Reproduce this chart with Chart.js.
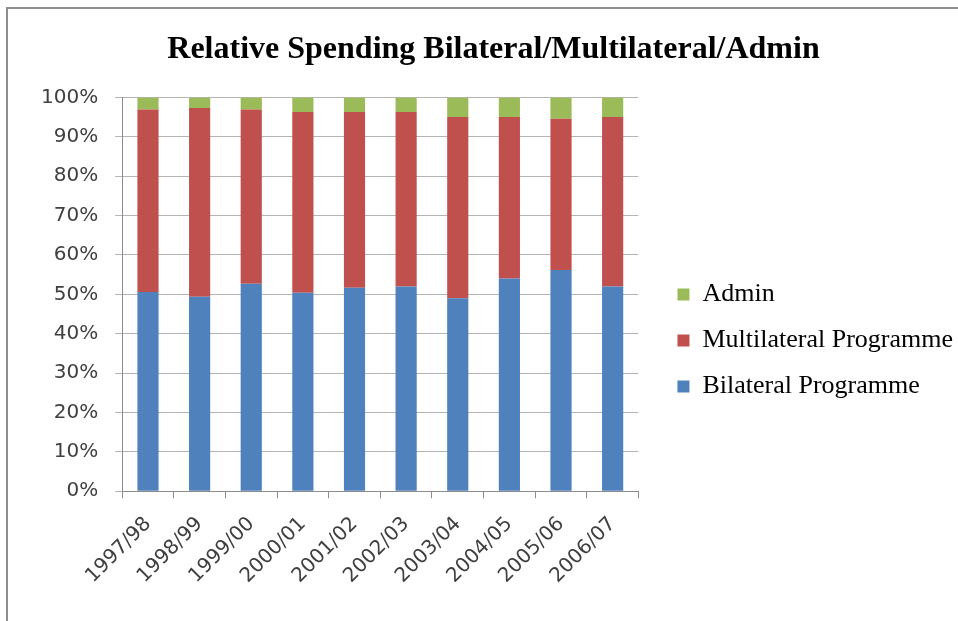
<!DOCTYPE html>
<html>
<head>
<meta charset="utf-8">
<script src="https://cdn.jsdelivr.net/npm/chart.js@4"></script>
<style>
  body { margin: 0; background: #fff; overflow: hidden; }
  #frame { position: absolute; left: 6px; top: 7px; width: 1000px; height: 700px;
           border-left: 2px solid #8e8e8e; border-top: 2px solid #8e8e8e; }
  #myChart { position: absolute; left: 0; top: 0; }
</style>
</head>
<body>
<div id="frame"></div>
<canvas id="myChart" width="958" height="621"></canvas>
<script>
var years = ['1997/98','1998/99','1999/00','2000/01','2001/02','2002/03','2003/04','2004/05','2005/06','2006/07'];
var bilateral = [50.6, 49.4, 52.7, 50.4, 51.7, 52.0, 49.0, 54.0, 56.2, 52.0];
var multilateral = [46.3, 47.9, 44.2, 45.9, 44.6, 44.3, 46.0, 41.0, 38.4, 43.0];
var admin = [3.1, 2.7, 3.1, 3.7, 3.7, 3.7, 5.0, 5.0, 5.4, 5.0];
var yTicks = [0, 10, 20, 30, 40, 50, 60, 70, 80, 90, 100];

var tickFont = { family: 'DejaVu Sans', size: 20 };
var ctx = document.getElementById("myChart").getContext('2d');
var barChart = new Chart(ctx, {
  type: 'bar',
  data: {
    labels: years,
    datasets: [{
      label: 'Bilateral Programme',
      data: bilateral,
      backgroundColor: "#4f81bd"
    }, {
      label: 'Multilateral Programme',
      data: multilateral,
      backgroundColor: "#c0504d"
    }, {
      label: 'Admin',
      data: admin,
      backgroundColor: "#9bbb59"
    }]
  },
  options: {
    responsive: false,
    animation: false,
    devicePixelRatio: 1,
    barPercentage: 0.41,
    categoryPercentage: 1,
    layout: { padding: { left: 24, right: -5, top: 10, bottom: 19 } },
    plugins: {
      tooltip: { enabled: false },
      title: {
        display: true,
        text: 'Relative Spending Bilateral/Multilateral/Admin',
        color: '#000',
        font: { family: 'Liberation Serif', size: 32, weight: 'bold' },
        padding: { top: 21, bottom: 28 }
      },
      legend: {
        position: 'right',
        reverse: true,
        maxWidth: 330,
        title: {
          // empty title only pushes the legend items down
          display: true,
          text: ' ',
          font: { size: 10 },
          padding: { top: 0, bottom: 57 }
        },
        labels: {
          boxWidth: 12,
          boxHeight: 12,
          padding: 20,
          color: '#000',
          font: { family: 'Liberation Serif', size: 26 }
        }
      }
    },
    scales: {
      x: {
        stacked: true,
        grid: { drawOnChartArea: false, tickLength: 7, color: '#8c8c8c' },
        border: { color: '#8c8c8c' },
        ticks: { minRotation: 45, maxRotation: 45, padding: 14, color: '#404040', font: tickFont }
      },
      y: {
        stacked: true,
        min: 0,
        max: 100,
        afterBuildTicks: function(scale) {
          scale.ticks = yTicks.map(function(v) { return { value: v }; });
        },
        grid: { color: '#b4b4b4', tickLength: 7 },
        border: { color: '#8c8c8c' },
        ticks: {
          padding: 17,
          color: '#404040',
          font: tickFont,
          callback: function(v) { return v + '%'; }
        }
      },
      gap: {
        position: 'right',
        display: true,
        grid: { display: false },
        border: { display: false },
        ticks: { display: false },
        afterFit: function(scale) { scale.width = 19; }
      }
    }
  }
});
</script>
</body>
</html>
